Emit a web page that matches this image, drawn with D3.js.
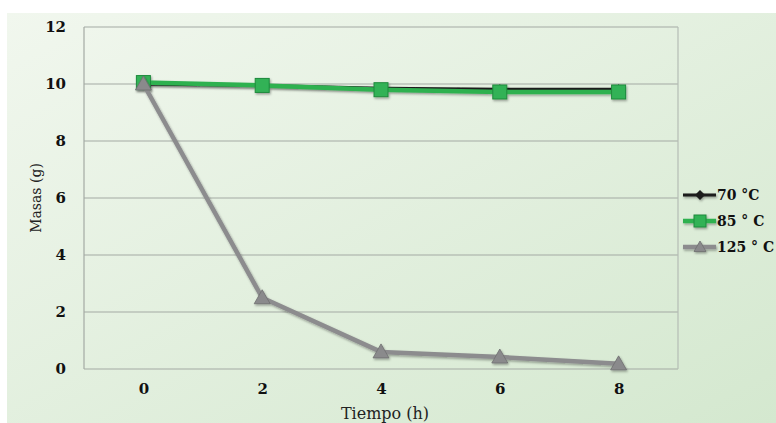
<!DOCTYPE html>
<html><head><meta charset="utf-8">
<script src="https://cdn.jsdelivr.net/npm/d3@7"></script>
<style>body{margin:0;background:#fff}svg{display:block}</style>
</head><body>
<svg id="c" width="776" height="423"></svg>
<script>
const categories = ["0","2","4","6","8"];
const yTicks = [0,2,4,6,8,10,12];
const s70 = [10.0, 9.95, 9.85, 9.82, 9.82];
const s85 = [10.05, 9.95, 9.8, 9.72, 9.72];
const s125 = [10.0, 2.5, 0.6, 0.42, 0.18];
const seriesNames = ["70 °C", "85 ° C", "125 ° C"];

const svg = d3.select("#c");
const defs = svg.append("defs");
const g = defs.append("linearGradient").attr("id","bg").attr("x1","0").attr("y1","0").attr("x2","1").attr("y2","1");
g.append("stop").attr("offset","0").attr("stop-color","#f1f7ee");
g.append("stop").attr("offset","1").attr("stop-color","#d4e8cf");
const f = defs.append("filter").attr("id","sh").attr("x","-50%").attr("y","-50%").attr("width","200%").attr("height","200%");
f.append("feDropShadow").attr("dx",1).attr("dy",1.5).attr("stdDeviation",1.2).attr("flood-color","#000").attr("flood-opacity",0.35);

svg.append("rect").attr("x",7).attr("y",13).attr("width",769).attr("height",410).attr("fill","url(#bg)");

const m = {l:84, r:678, t:27, b:369};
const x = d3.scalePoint().domain(categories).range([m.l, m.r]).padding(0.5);
const y = d3.scaleLinear().domain([0,12]).range([m.b, m.t]);

svg.append("g").selectAll("line").data(yTicks).join("line")
  .attr("x1",m.l).attr("x2",m.r).attr("y1",d=>y(d)).attr("y2",d=>y(d))
  .attr("stroke","#a3aaa3").attr("stroke-width",1.2);
svg.append("line").attr("x1",m.l).attr("x2",m.l).attr("y1",m.t).attr("y2",m.b).attr("stroke","#a3aaa3").attr("stroke-width",1.2);
svg.append("line").attr("x1",m.r).attr("x2",m.r).attr("y1",m.t).attr("y2",m.b).attr("stroke","#b5bcb5").attr("stroke-width",1.2);

const FF = 'DejaVu Serif';
const yAxis = d3.axisLeft(y).tickValues(yTicks).tickSize(0).tickPadding(18);
const ya = svg.append("g").attr("transform",`translate(${m.l},0)`).call(yAxis);
ya.select(".domain").remove();
ya.selectAll("text").style("font-family",FF).attr("font-weight","bold").attr("font-size",15).attr("fill","#111");
const xAxis = d3.axisBottom(x).tickSize(0).tickPadding(14);
const xa = svg.append("g").attr("transform",`translate(0,${m.b})`).call(xAxis);
xa.select(".domain").remove();
xa.selectAll("text").style("font-family",FF).attr("font-weight","bold").attr("font-size",15).attr("fill","#111");

svg.append("text").attr("transform",`translate(41,${(m.t+m.b)/2}) rotate(-90)`).attr("text-anchor","middle")
  .style("font-family",FF).attr("font-size",14).attr("fill","#222").text("Masas (g)");
svg.append("text").attr("x",(m.l+m.r)/2 + 4).attr("y",419).attr("text-anchor","middle")
  .style("font-family",FF).attr("font-size",16).attr("fill","#222").text("Tiempo (h)");

const line = d3.line().x((d,i)=>x(categories[i])).y(d=>y(d));
const styles = [
  {data:s70, color:"#1a1a1a", w:3, marker:"diamond", mfill:"#1a1a1a", size:5},
  {data:s85, color:"#2fb150", w:4.5, marker:"square", mfill:"#32b257", size:7},
  {data:s125, color:"#8c8c8e", w:4.5, marker:"triangle", mfill:"#8a8a8c", size:8}
];
function marker(sel, type, s, fill){
  if(type==="diamond") sel.append("path").attr("d",`M0,${-s}L${s},0L0,${s}L${-s},0Z`).attr("fill",fill);
  else if(type==="square") sel.append("rect").attr("x",-s).attr("y",-s).attr("width",2*s).attr("height",2*s).attr("fill",fill).attr("stroke","#1f8a3c").attr("stroke-width",1);
  else sel.append("path").attr("d",`M0,${-s}L${s},${s*0.75}L${-s},${s*0.75}Z`).attr("fill",fill).attr("stroke","#6e6e70").attr("stroke-width",0.8);
}
styles.forEach(st=>{
  const gg = svg.append("g").attr("filter","url(#sh)");
  gg.append("path").datum(st.data).attr("d",line).attr("fill","none").attr("stroke",st.color).attr("stroke-width",st.w).attr("stroke-linejoin","round");
  st.data.forEach((v,i)=>{
    const mk = gg.append("g").attr("transform",`translate(${x(categories[i])},${y(v)})`);
    marker(mk, st.marker, st.size, st.mfill);
  });
});

const lg = svg.append("g");
styles.forEach((st,i)=>{
  const yy = 195 + i*26;
  const row = lg.append("g").attr("filter","url(#sh)");
  row.append("line").attr("x1",683).attr("x2",716).attr("y1",yy).attr("y2",yy).attr("stroke",st.color).attr("stroke-width",st.w);
  const mk = row.append("g").attr("transform",`translate(700,${yy})`);
  marker(mk, st.marker, st.marker==="diamond"?5:6, st.mfill);
  lg.append("text").attr("x",717).attr("y",yy+5).style("font-family",FF).attr("font-weight","bold").attr("font-size",14).attr("fill","#111").text(seriesNames[i]);
});
</script>
</body></html>
